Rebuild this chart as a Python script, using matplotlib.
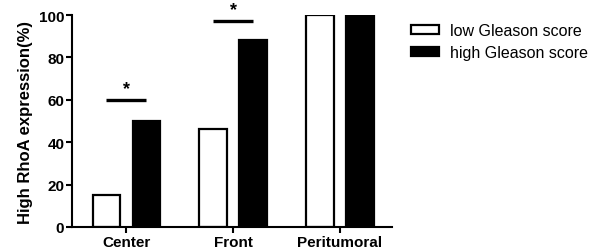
import numpy as np
import matplotlib.pyplot as plt

plt.rcParams["font.family"] = ["Liberation Sans", "DejaVu Sans"]

categories = ["Center", "Front", "Peritumoral"]
low_gleason = [15, 46, 100]
high_gleason = [50, 88, 100]
# significance bars: (group index, height)
sig_marks = [(0, 60), (1, 97)]

fig = plt.figure(figsize=(6.10, 2.53), dpi=100)
ax = fig.add_axes([72 / 610, 1 - 228 / 253, 320 / 610, 212 / 253])

x = np.arange(len(categories))
width = 0.26
off = 0.1875

ax.bar(x - off, low_gleason, width, color="white", edgecolor="black",
       linewidth=1.6, label="low Gleason score")
ax.bar(x + off, high_gleason, width, color="black", edgecolor="black",
       linewidth=1.6, label="high Gleason score")

for i, h in sig_marks:
    ax.plot([i - off, i + off], [h, h], color="black", lw=2.4,
            solid_capstyle="butt", clip_on=False)
    ax.text(i, h + 1.5, "*", ha="center", va="bottom", fontsize=13,
            fontweight="bold")

ax.set_xlim(-0.51, 2.49)
ax.set_ylim(0, 100)
ax.set_yticks([0, 20, 40, 60, 80, 100])
ax.set_xticks(x)
ax.set_xticklabels(categories, fontsize=11, fontweight="bold")
for lab in ax.get_yticklabels():
    lab.set_fontsize(11)
    lab.set_fontweight("bold")
ax.set_ylabel("High RhoA expression(%)", fontsize=12, fontweight="bold",
              labelpad=4)

for side in ["top", "right"]:
    ax.spines[side].set_visible(False)
for side in ["left", "bottom"]:
    ax.spines[side].set_linewidth(1.5)
ax.tick_params(width=1.5, length=4, pad=1.5)

fig.legend(loc="upper left", bbox_to_anchor=(405 / 610, 1 - 18 / 253),
           frameon=False, fontsize=11.5, handlelength=1.7, handleheight=0.5,
           handletextpad=0.7, labelspacing=0.4, borderaxespad=0)

fig.savefig("out.png", dpi=100)
